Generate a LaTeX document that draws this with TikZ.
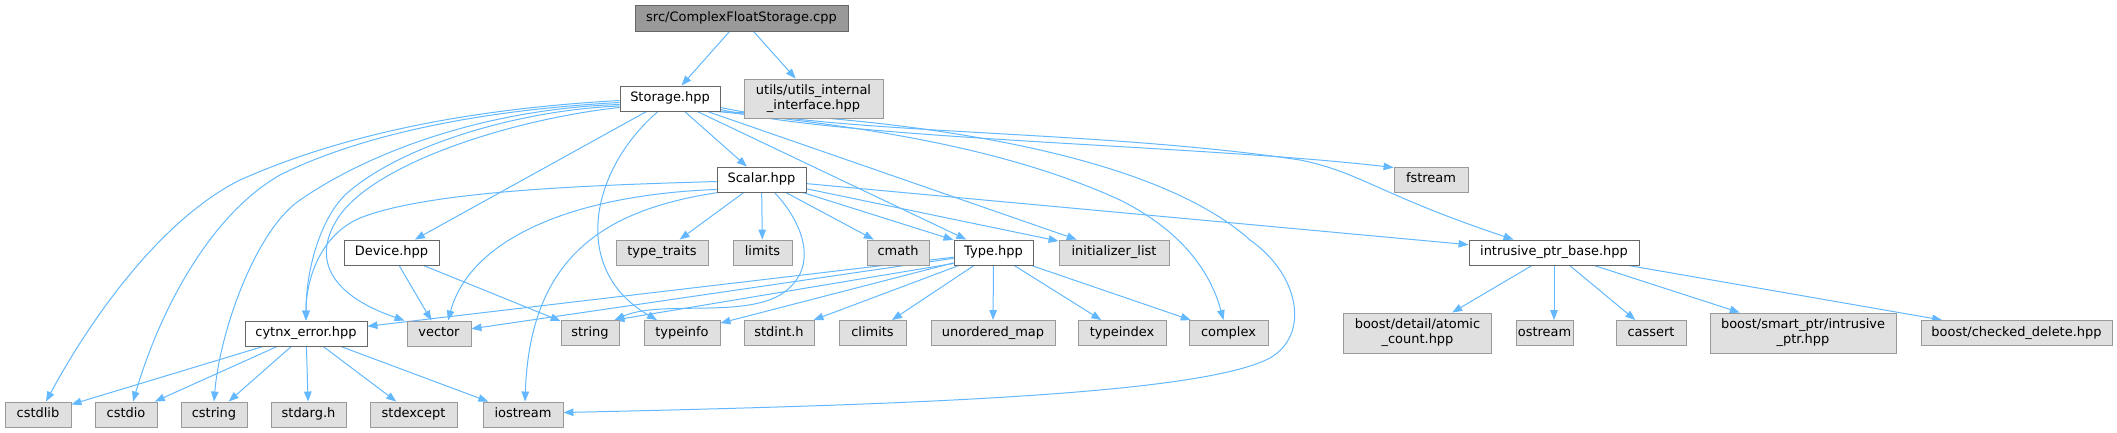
\documentclass[tikz,border=0pt]{standalone}
\usepackage{fontspec}
\setmainfont{DejaVu Sans}
\usetikzlibrary{arrows.meta,calc}
\definecolor{edgec}{HTML}{63B8FF}
\definecolor{gfill}{HTML}{E0E0E0}
\definecolor{gborder}{HTML}{999999}
\definecolor{wborder}{HTML}{666666}
\definecolor{topfill}{HTML}{999999}
\pgfdeclarelayer{bg}
\pgfsetlayers{bg,main}
\begin{document}
\begin{tikzpicture}[x=1pt,y=-1pt,
  box/.style={draw, rectangle, inner sep=0pt, minimum height=25pt, line width=0.9pt,
    font=\fontsize{12.96}{15}\selectfont, text height=9.6pt, text depth=2.9pt},
  gbox/.style={box, fill=gfill, draw=gborder},
  wbox/.style={box, fill=white, draw=wborder},
  gboxtwo/.style={draw=gborder, fill=gfill, rectangle, inner sep=0pt, minimum height=40pt,
    line width=0.9pt, align=center, font=\fontsize{12.96}{15}\selectfont},
  dep/.style={draw=edgec, line width=1pt, -{Triangle[length=10pt,width=7.5pt]}},
]
\useasboundingbox (0,0) rectangle (2117,432);
% row 0
\node[box, fill=topfill, draw=wborder, minimum width=213pt, minimum height=26pt] (top) at (741.5,18) {src/ComplexFloatStorage.cpp};
% row 1
\node[wbox, minimum width=100pt] (storage) at (670,98.5) {Storage.hpp};
\node[gboxtwo, minimum width=139pt, minimum height=39pt] (utils) at (813.5,98.5) {utils/utils\_internal\\\_interface.hpp};
% row 2
\node[wbox, minimum width=89pt] (scalar) at (761.5,179.5) {Scalar.hpp};
\node[gbox, minimum width=74pt] (fstream) at (1431,179.5) {fstream};
% row 3
\node[wbox, minimum width=95pt] (device) at (391.5,252.5) {Device.hpp};
\node[gbox, minimum width=92pt] (typetraits) at (662,252.5) {type\_traits};
\node[gbox, minimum width=59pt] (limits) at (762.5,252.5) {limits};
\node[gbox, minimum width=62pt] (cmath) at (898,252.5) {cmath};
\node[wbox, minimum width=79pt] (type) at (993.5,252.5) {Type.hpp};
\node[gbox, minimum width=110pt] (initlist) at (1114,252.5) {initializer\_list};
\node[wbox, minimum width=170pt] (intr) at (1554,252.5) {intrusive\_ptr\_base.hpp};
% row 4
\node[wbox, minimum width=122pt] (cytnx) at (306,333.5) {cytnx\_error.hpp};
\node[gbox, minimum width=64pt] (vector) at (439,333.5) {vector};
\node[gbox, minimum width=58pt] (string) at (590,333) {string};
\node[gbox, minimum width=76pt] (typeinfo) at (682,333) {typeinfo};
\node[gbox, minimum width=70pt] (stdint) at (779,333) {stdint.h};
\node[gbox, minimum width=67pt] (climits) at (872.5,333) {climits};
\node[gbox, minimum width=124pt] (umap) at (993,333) {unordered\_map};
\node[gbox, minimum width=88pt] (typeindex) at (1122,333) {typeindex};
\node[gbox, minimum width=79pt] (complex) at (1228.5,333) {complex};
\node[gboxtwo, minimum width=148pt] (atomic) at (1417.5,333) {boost/detail/atomic\\\_count.hpp};
\node[gbox, minimum width=57pt] (ostream) at (1544.5,333) {ostream};
\node[gbox, minimum width=70pt] (cassert) at (1651,333) {cassert};
\node[gboxtwo, minimum width=186pt] (intrptr) at (1803,333) {boost/smart\_ptr/intrusive\\\_ptr.hpp};
\node[gbox, minimum width=191pt] (checked) at (2016.5,333) {boost/checked\_delete.hpp};
% row 5
\node[gbox, minimum width=66pt] (cstdlib) at (38,414.5) {cstdlib};
\node[gbox, minimum width=62pt] (cstdio) at (126,414.5) {cstdio};
\node[gbox, minimum width=66pt] (cstring) at (214,414.5) {cstring};
\node[gbox, minimum width=75pt] (stdarg) at (308.5,414.5) {stdarg.h};
\node[gbox, minimum width=87pt] (stdexcept) at (413.5,414.5) {stdexcept};
\node[gbox, minimum width=80pt] (iostream) at (523,414.5) {iostream};

\begin{pgfonlayer}{bg}
% top
\draw[dep] (top) -- (storage);
\draw[dep] (top) -- (utils);
% Storage
\draw[dep] (storage) -- (scalar);
\draw[dep] (storage) -- (device);
\draw[dep] (storage) -- (type);
\draw[dep] (storage) -- (initlist);
\draw[dep] ($(storage.south)+(-12,0)$) .. controls (590,170) and (570,270) .. ($(typeinfo.north)+(-25,0)$);
\draw[dep] ($(storage.west)+(0,2)$) .. controls (450,110) and (330,140) .. (240,180) .. controls (160,220) and (90,320) .. ($(cstdlib.north)+(8,0)$);
\draw[dep] ($(storage.west)+(0,4)$) .. controls (480,110) and (360,135) .. (280,175) .. controls (210,215) and (160,310) .. ($(cstdio.north)+(7,0)$);
\draw[dep] ($(storage.west)+(0,6)$) .. controls (500,108) and (380,145) .. (300,200) .. controls (256,230) and (220,330) .. (cstring.north);
\draw[dep] ($(storage.west)+(0,7.5)$) .. controls (520,110) and (400,145) .. (345,195) .. controls (320,220) and (306,270) .. (cytnx.north);
\draw[dep] ($(storage.west)+(0,9)$) .. controls (520,118) and (380,160) .. (340,215) .. controls (310,258) and (330,295) .. ($(vector.north west)+(-2,0)$);
\draw[dep] ($(storage.south east)+(0,-2)$) .. controls (850,140) and (1200,145) .. ($(fstream.north west)+(0,1)$);
\draw[dep] ($(storage.south east)+(0,-4)$) .. controls (850,135) and (1100,130) .. (1300,160) .. controls (1360,172) and (1380,195) .. ($(intr.north west)+(45,0)$);
\draw[dep] ($(storage.south east)+(-3,0)$) .. controls (850,125) and (1000,145) .. (1120,200) .. controls (1180,230) and (1210,270) .. ($(complex.north)+(-5,0)$);
\draw[dep] ($(storage.south east)+(-6,0)$) .. controls (900,118) and (1150,150) .. (1250,240) .. controls (1300,275) and (1310,335) .. (1270,358) .. controls (1200,395) and (900,405) .. ($(iostream.east)+(0,-2)$);
% Scalar
\draw[dep] (scalar) -- (typetraits);
\draw[dep] (scalar) -- (limits);
\draw[dep] (scalar) -- (cmath);
\draw[dep] (scalar) -- (type);
\draw[dep] (scalar) -- (initlist);
\draw[dep] (scalar) -- (intr);
\draw[dep] ($(scalar.west)+(0,2)$) .. controls (600,185) and (430,190) .. (360,218) .. controls (320,235) and (306,280) .. (cytnx.north);
\draw[dep] ($(scalar.south west)+(0,-3)$) .. controls (570,195) and (470,240) .. ($(vector.north)+(9,0)$);
\draw[dep] ($(scalar.south west)+(2,0)$) .. controls (600,210) and (530,260) .. ($(iostream.north)+(2,0)$);
\draw[dep] ($(scalar.south)+(13,0)$) .. controls (805,225) and (820,270) .. (780,295) .. controls (740,318) and (660,300) .. ($(string.north east)+(-5,0)$);
% Device
\draw[dep] (device) -- (vector);
\draw[dep] (device) -- (string);
% Type
\draw[dep] (type) -- (cytnx);
\draw[dep] (type) -- (vector);
\draw[dep] ($(type.south west)+(0,-2)$) -- ($(string.north east)+(-5,0)$);
\draw[dep] (type) -- (typeinfo);
\draw[dep] (type) -- (stdint);
\draw[dep] (type) -- (climits);
\draw[dep] (type) -- (umap);
\draw[dep] (type) -- (typeindex);
\draw[dep] (type) -- (complex);
% cytnx_error
\draw[dep] (cytnx) -- (cstdlib);
\draw[dep] (cytnx) -- (cstdio);
\draw[dep] (cytnx) -- (cstring);
\draw[dep] (cytnx) -- (stdarg);
\draw[dep] (cytnx) -- (stdexcept);
\draw[dep] (cytnx) -- (iostream);
% intrusive_ptr_base
\draw[dep] (intr) -- (atomic);
\draw[dep] (intr.south) -- (intr.south |- ostream.north);
\draw[dep] (intr) -- (cassert);
\draw[dep] (intr) -- (intrptr);
\draw[dep] (intr) -- (checked);
\end{pgfonlayer}
\end{tikzpicture}
\end{document}
